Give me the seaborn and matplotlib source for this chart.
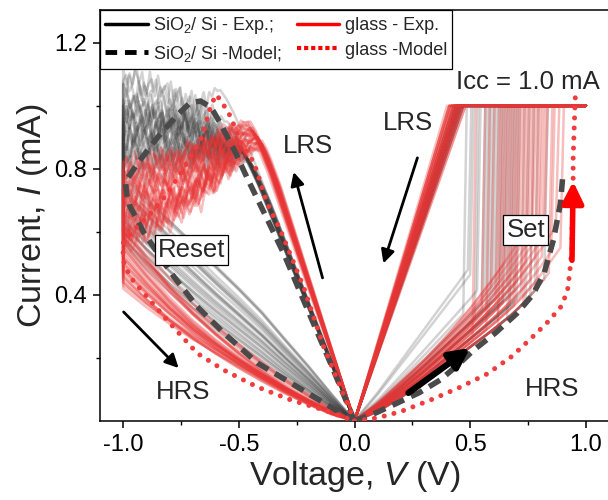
import numpy as np
import pandas as pd
import matplotlib
matplotlib.use("Agg")
import matplotlib.pyplot as plt
import seaborn as sns
from matplotlib.lines import Line2D

# ---------------- data ----------------
# base shapes (normalised) used by the experimental cycles
SET_V = [0.0, 0.1, 0.2, 0.3, 0.4, 0.5, 0.6, 0.7, 0.8, 0.9]
SET_LOW = [0.0, 0.03, 0.075, 0.125, 0.18, 0.235, 0.29, 0.35, 0.43, 0.53]
SET_HIGH_RED = [0.0, 0.06, 0.13, 0.20, 0.28, 0.37, 0.47, 0.58, 0.70, 0.83]
SET_HIGH_GRAY = [0.0, 0.09, 0.19, 0.29, 0.39, 0.49, 0.60, 0.70, 0.80, 0.90]

RET_V = [0.0, -0.1, -0.2, -0.3, -0.4, -0.5, -0.6, -0.7, -0.8, -0.9, -1.0]
RET_CONVEX = [0.0, 0.04, 0.10, 0.17, 0.25, 0.34, 0.44, 0.55, 0.68, 0.83, 1.0]
RET_CONCAVE = [0.0, 0.13, 0.26, 0.38, 0.50, 0.60, 0.69, 0.78, 0.86, 0.93, 1.0]

LRS_T = [0.0, 0.2, 0.4, 0.6, 0.8, 0.9, 0.95, 1.0]
LRS_F = [0.0, 0.21, 0.42, 0.63, 0.84, 0.93, 0.97, 1.0]

POST_U = [0.0, 0.1, 0.2, 0.3, 0.4, 0.5, 0.6, 0.7, 0.8, 0.9, 1.0]
POST_F = [0.0, 0.08, 0.22, 0.38, 0.52, 0.63, 0.72, 0.80, 0.87, 0.94, 1.0]

WIGGLE = [0.0, 0.03, -0.02, 0.04, -0.03, 0.01, 0.05, -0.02, 0.02, -0.04,
          0.03, 0.0, -0.03, 0.04, -0.01, 0.02, -0.05, 0.03, 0.01, -0.02,
          0.04, -0.03, 0.02, 0.0, -0.04, 0.03, -0.01, 0.05, -0.02, 0.01,
          -0.03, 0.02, 0.04, -0.01, -0.03, 0.02]

# glass cycles
RED_VSET = [0.51, 0.55, 0.57, 0.59, 0.61, 0.62, 0.63, 0.64, 0.65, 0.66,
            0.67, 0.68, 0.69, 0.70, 0.71, 0.72, 0.73, 0.74, 0.75, 0.76,
            0.77, 0.78, 0.79, 0.80, 0.81, 0.82, 0.84, 0.85, 0.87, 0.89]
RED_SETMIX = [0.2, 0.6, 0.1, 0.8, 0.4, 0.0, 0.7, 0.3, 0.9, 0.5,
              0.2, 0.6, 0.1, 0.4, 0.8, 0.3, 0.0, 0.5, 0.7, 0.2,
              0.9, 0.4, 0.1, 0.6, 0.3, 0.5, 0.0, 0.2, 0.4, 0.1]
RED_VLRS = [0.41, 0.44, 0.42, 0.46, 0.43, 0.45, 0.40, 0.47, 0.44, 0.42,
            0.46, 0.43, 0.48, 0.41, 0.45, 0.44, 0.42, 0.47, 0.43, 0.46,
            0.41, 0.44, 0.45, 0.42, 0.48, 0.43, 0.46, 0.44, 0.41, 0.45]
RED_VPEAK = [-0.42, -0.44, -0.40, -0.46, -0.43, -0.41, -0.45, -0.40, -0.44, -0.42,
             -0.47, -0.41, -0.43, -0.45, -0.40, -0.44, -0.42, -0.46, -0.41, -0.43,
             -0.40, -0.45, -0.42, -0.44, -0.40, -0.43, -0.46, -0.41, -0.44, -0.42]
RED_IPEAK = [0.90, 0.93, 0.88, 0.94, 0.91, 0.89, 0.95, 0.87, 0.92, 0.90,
             0.94, 0.88, 0.91, 0.93, 0.89, 0.92, 0.90, 0.95, 0.87, 0.91,
             0.86, 0.93, 0.90, 0.92, 0.88, 0.91, 0.94, 0.89, 0.92, 0.90]
RED_IEND = [0.62, 0.75, 0.58, 0.80, 0.68, 0.55, 0.72, 0.64, 0.78, 0.60,
            0.70, 0.66, 0.82, 0.57, 0.74, 0.63, 0.69, 0.77, 0.59, 0.71,
            0.65, 0.79, 0.61, 0.73, 0.67, 0.56, 0.76, 0.62, 0.70, 0.66]
RED_I1 = [0.48, 0.55, 0.44, 0.62, 0.50, 0.46, 0.58, 0.52, 0.64, 0.45,
          0.56, 0.49, 0.60, 0.43, 0.54, 0.51, 0.47, 0.59, 0.53, 0.57,
          0.42, 0.61, 0.50, 0.55, 0.48, 0.44, 0.63, 0.52, 0.57, 0.46]
RED_RETMIX = [0.15, 0.05, 0.25, 0.0, 0.2, 0.1, 0.3, 0.05, 0.15, 0.25,
              0.0, 0.1, 0.2, 0.35, 0.05, 0.15, 0.25, 0.1, 0.0, 0.2,
              0.3, 0.05, 0.15, 0.1, 0.25, 0.2, 0.0, 0.15, 0.05, 0.1]

# SiO2/Si cycles
GRAY_VSET = [0.47, 0.52, 0.58, 0.62, 0.66, 0.55, 0.70, 0.60, 0.74, 0.50,
             0.64, 0.68, 0.57, 0.78, 0.63, 0.53, 0.72, 0.59, 0.82, 0.65,
             0.49, 0.67, 0.61, 0.76, 0.56, 0.69]
GRAY_SETMIX = [0.5, 0.3, 0.2, 0.1, 0.0, 0.4, 0.1, 0.3, 0.0, 0.9,
               0.2, 0.1, 0.3, 0.0, 0.2, 0.6, 0.1, 0.3, 0.0, 0.2,
               1.0, 0.1, 0.3, 0.0, 0.4, 0.2]
GRAY_VLRS = [0.43, 0.45, 0.44, 0.46, 0.47, 0.44, 0.45, 0.46, 0.43, 0.47,
             0.45, 0.44, 0.46, 0.45, 0.47, 0.44, 0.46, 0.45, 0.43, 0.47,
             0.44, 0.46, 0.45, 0.44, 0.46, 0.45]
GRAY_VPEAK = [-0.46, -0.50, -0.48, -0.52, -0.47, -0.55, -0.49, -0.51, -0.45, -0.53,
              -0.48, -0.50, -0.47, -0.54, -0.49, -0.46, -0.52, -0.48, -0.50, -0.47,
              -0.58, -0.49, -0.51, -0.46, -0.53, -0.48]
GRAY_IPEAK = [0.83, 0.87, 0.85, 0.90, 0.84, 0.95, 0.86, 0.88, 0.82, 0.92,
              0.85, 0.87, 0.84, 0.93, 0.86, 0.83, 0.89, 0.85, 0.87, 0.84,
              1.05, 0.86, 0.88, 0.83, 0.91, 0.85]
GRAY_IEND = [0.85, 0.95, 1.02, 0.80, 0.90, 1.08, 0.88, 0.98, 0.78, 1.05,
             0.92, 0.84, 1.00, 0.94, 0.86, 0.96, 1.10, 0.82, 0.91, 0.99,
             0.87, 1.03, 0.93, 0.89, 0.97, 0.83]
GRAY_I1 = [0.62, 0.68, 0.58, 0.72, 0.64, 0.76, 0.60, 0.70, 0.63, 0.78,
           0.66, 0.57, 0.71, 0.62, 0.74, 0.60, 0.77, 0.65, 0.69, 0.58,
           0.75, 0.64, 0.70, 0.56, 0.67, 0.73]
GRAY_RETMIX = [0.5, 0.6, 0.4, 0.7, 0.55, 0.8, 0.45, 0.65, 0.4, 0.75,
               0.55, 0.35, 0.7, 0.5, 0.6, 0.4, 0.8, 0.55, 0.6, 0.4,
               0.7, 0.5, 0.55, 0.3, 0.6, 0.7]

# model curves
SIO2_MODEL_V = [0.0, 0.09, 0.185, 0.28, 0.37, 0.45, 0.515, 0.61, 0.70, 0.77, 0.82, 0.86, 0.89, 0.90]
SIO2_MODEL_I = [0.0, 0.025, 0.057, 0.09, 0.13, 0.18, 0.225, 0.28, 0.34, 0.40, 0.47, 0.575, 0.69, 0.775]
SIO2_MODEL_NV = [0.0, -0.09, -0.233, -0.305, -0.377, -0.46, -0.52, -0.58, -0.62, -0.665, -0.71, -0.76,
                 -0.84, -0.93, -0.99, -0.985, -0.97, -0.91, -0.78, -0.68, -0.566, -0.42, -0.246, -0.104, 0.0]
SIO2_MODEL_NI = [0.0, 0.16, 0.405, 0.53, 0.64, 0.765, 0.86, 0.945, 0.995, 1.015, 1.01, 0.975,
                 0.91, 0.825, 0.76, 0.72, 0.68, 0.597, 0.457, 0.363, 0.28, 0.184, 0.108, 0.045, 0.0]
GLASS_MODEL_V = [0.0, 0.10, 0.20, 0.33, 0.45, 0.575, 0.68, 0.76, 0.83, 0.89, 0.92, 0.93, 0.94,
                 0.94, 0.945, 0.945, 0.95, 0.955]
GLASS_MODEL_I = [0.0, 0.01, 0.03, 0.067, 0.105, 0.15, 0.205, 0.26, 0.31, 0.36, 0.41, 0.47, 0.55,
                 0.62, 0.73, 0.83, 0.94, 1.04]
GLASS_MODEL_NV = [0.0, -0.133, -0.22, -0.32, -0.377, -0.435, -0.49, -0.535, -0.58, -0.60, -0.625,
                  -0.66, -0.74, -0.81, -0.88, -0.955, -1.0, -1.0, -0.97, -0.91, -0.81, -0.68,
                  -0.566, -0.42, -0.276, -0.133, 0.0]
GLASS_MODEL_NI = [0.0, 0.235, 0.425, 0.605, 0.69, 0.82, 0.88, 0.965, 1.02, 1.035, 0.99,
                  0.90, 0.80, 0.72, 0.66, 0.605, 0.565, 0.51, 0.457, 0.405, 0.32, 0.215,
                  0.162, 0.108, 0.067, 0.035, 0.0]

X_TICKS = [-1.0, -0.5, 0.0, 0.5, 1.0]
Y_TICKS = [0.4, 0.8, 1.2]


# ---------------- build cycles ----------------
def build_cycle(vset, setmix, hi, vlrs, vp, ip, iend, i1, retmix, shift, amp):
    vh = np.linspace(0, vset, 16)
    ih = (1 - setmix) * np.interp(vh, SET_V, SET_LOW) + setmix * np.interp(vh, SET_V, hi)
    v = list(vh) + [vset + 0.015, 1.0, vlrs, 0.0]
    i = list(ih) + [1.0, 1.0, 1.0, 0.0]
    # negative LRS leg
    v += list(vp * np.array(LRS_T[1:]))
    i += list(ip * np.array(LRS_F[1:]))
    # reset region
    u = np.linspace(0, 1, len(WIGGLE))
    vr = vp + (-1.0 - vp) * u
    ir = ip + (iend - ip) * np.interp(u, POST_U, POST_F) + \
        np.roll(WIGGLE, shift) * amp * np.minimum(1.0, u * 5)
    v += list(vr[1:])
    i += list(ir[1:])
    # return (HRS)
    shape = (1 - retmix) * np.array(RET_CONVEX) + retmix * np.array(RET_CONCAVE)
    v += list(np.array(RET_V)[::-1])
    i += list((i1 * shape)[::-1])
    return v, i


def make_df(vset, setmix, hi, vlrs, vp, ip, iend, i1, retmix, amp):
    rows = []
    for k in range(len(vset)):
        v, i = build_cycle(vset[k], setmix[k], hi, vlrs[k], vp[k], ip[k], iend[k],
                           i1[k], retmix[k], (k * 7) % len(WIGGLE), amp)
        rows.append(pd.DataFrame({"V": v, "I": i, "cycle": k}))
    return pd.concat(rows, ignore_index=True)


df_gray = make_df(GRAY_VSET, GRAY_SETMIX, SET_HIGH_GRAY, GRAY_VLRS, GRAY_VPEAK,
                  GRAY_IPEAK, GRAY_IEND, GRAY_I1, GRAY_RETMIX, 1.0)
df_red = make_df(RED_VSET, RED_SETMIX, SET_HIGH_RED, RED_VLRS, RED_VPEAK,
                 RED_IPEAK, RED_IEND, RED_I1, RED_RETMIX, 0.8)

# ---------------- style ----------------
sns.set_theme(style="ticks")
plt.rcParams.update({
    "font.family": ["Liberation Sans", "DejaVu Sans"],
    "mathtext.fontset": "custom",
    "mathtext.rm": "Liberation Sans",
    "mathtext.it": "Liberation Sans:italic",
    "axes.linewidth": 1.1,
    "axes.edgecolor": "black",
    "xtick.color": "black",
    "ytick.color": "black",
})

fig = plt.figure(figsize=(6.08, 5.0), dpi=100)
ax = fig.add_axes([100 / 608, 79 / 500, 509 / 608, 411 / 500])

sns.lineplot(data=df_gray, x="V", y="I", units="cycle", estimator=None, sort=False,
             color="#3a3a3a", alpha=0.22, lw=1.8, ax=ax, legend=False)
sns.lineplot(data=df_red, x="V", y="I", units="cycle", estimator=None, sort=False,
             color="#e83535", alpha=0.32, lw=1.8, ax=ax, legend=False)

# model curves
dash_kw = dict(color="#4a4a4a", lw=4.0, dashes=(2.3, 1.4), dash_capstyle="butt", zorder=5)
ax.plot(SIO2_MODEL_V, SIO2_MODEL_I, **dash_kw)
ax.plot(SIO2_MODEL_NV, SIO2_MODEL_NI, **dash_kw)
dot_kw = dict(color="#f03c3c", lw=3.6, dashes=(0.01, 2.0), dash_capstyle="round", zorder=6)
ax.plot(GLASS_MODEL_V, GLASS_MODEL_I, **dot_kw)
ax.plot(GLASS_MODEL_NV, GLASS_MODEL_NI, **dot_kw)

# arrows
def arrow(x0, y0, x1, y1, color="black", lw=2.0, ms=20):
    ax.annotate("", xy=(x1, y1), xytext=(x0, y0),
                arrowprops=dict(arrowstyle="-|>", color=color, lw=lw, mutation_scale=ms,
                                shrinkA=0, shrinkB=0), zorder=8)

arrow(-0.138, 0.454, -0.263, 0.79)
arrow(0.272, 0.835, 0.125, 0.50)
arrow(-0.998, 0.346, -0.76, 0.168)
arrow(0.233, 0.089, 0.50, 0.232, lw=4.5, ms=30)
arrow(0.94, 0.51, 0.945, 0.76, color="#ff0000", lw=4.0, ms=32)

# texts
tk = dict(fontsize=18.5, ha="center", va="center", zorder=9)
box = dict(boxstyle="square,pad=0.12", fc="white", ec="black", lw=0.9)
ax.text(-0.20, 0.873, "LRS", **tk)
ax.text(0.233, 0.946, "LRS", **tk)
ax.text(-0.74, 0.092, "HRS", **tk)
ax.text(0.855, 0.10, "HRS", **tk)
ax.text(0.75, 1.075, "Icc = 1.0 mA", **tk)
ax.text(-0.705, 0.543, "Reset", bbox=box, **tk)
ax.text(0.74, 0.607, "Set", bbox=box, **tk)

# axes
ax.set_xlim(-1.1, 1.1)
ax.set_ylim(0.0, 1.304)
ax.set_xticks(X_TICKS)
ax.set_xticklabels([f"{t:.1f}" for t in X_TICKS])
ax.set_yticks(Y_TICKS)
ax.set_yticklabels([f"{t:.1f}" for t in Y_TICKS])
ax.set_xticks([-0.75, -0.25, 0.25, 0.75], minor=True)
ax.set_yticks([0.2, 0.6, 1.0], minor=True)
ax.tick_params(which="major", direction="out", length=5, width=1.1, labelsize=17, pad=4.5)
ax.tick_params(which="minor", direction="out", length=3, width=1.0)
ax.spines["right"].set_visible(False)
ax.set_xlabel("Voltage, $\\mathit{V}$ (V)", fontsize=24.5, labelpad=2)
ax.set_ylabel("Current, $\\mathit{I}$ (mA)", fontsize=24.5, labelpad=3)

handles = [
    Line2D([], [], color="black", lw=2.5),
    Line2D([], [], color="black", lw=3.5, dashes=(2.4, 1.6)),
    Line2D([], [], color="#ff0000", lw=2.5),
    Line2D([], [], color="#ff0000", lw=3.0, dashes=(1.0, 0.7)),
]
labels = ["SiO$_2$/ Si - Exp.;", "SiO$_2$/ Si -Model;", "glass - Exp.", "glass -Model"]
leg = ax.legend(handles, labels, ncol=2, loc="upper left", bbox_to_anchor=(0, 1),
                borderaxespad=0, fontsize=13, frameon=True, fancybox=False,
                edgecolor="black", framealpha=1, handlelength=2.35, handletextpad=0.3,
                columnspacing=0.8, labelspacing=0.4, borderpad=0.3)
leg.get_frame().set_linewidth(0.9)
leg.set_zorder(10)

fig.savefig("out.png", dpi=100)
